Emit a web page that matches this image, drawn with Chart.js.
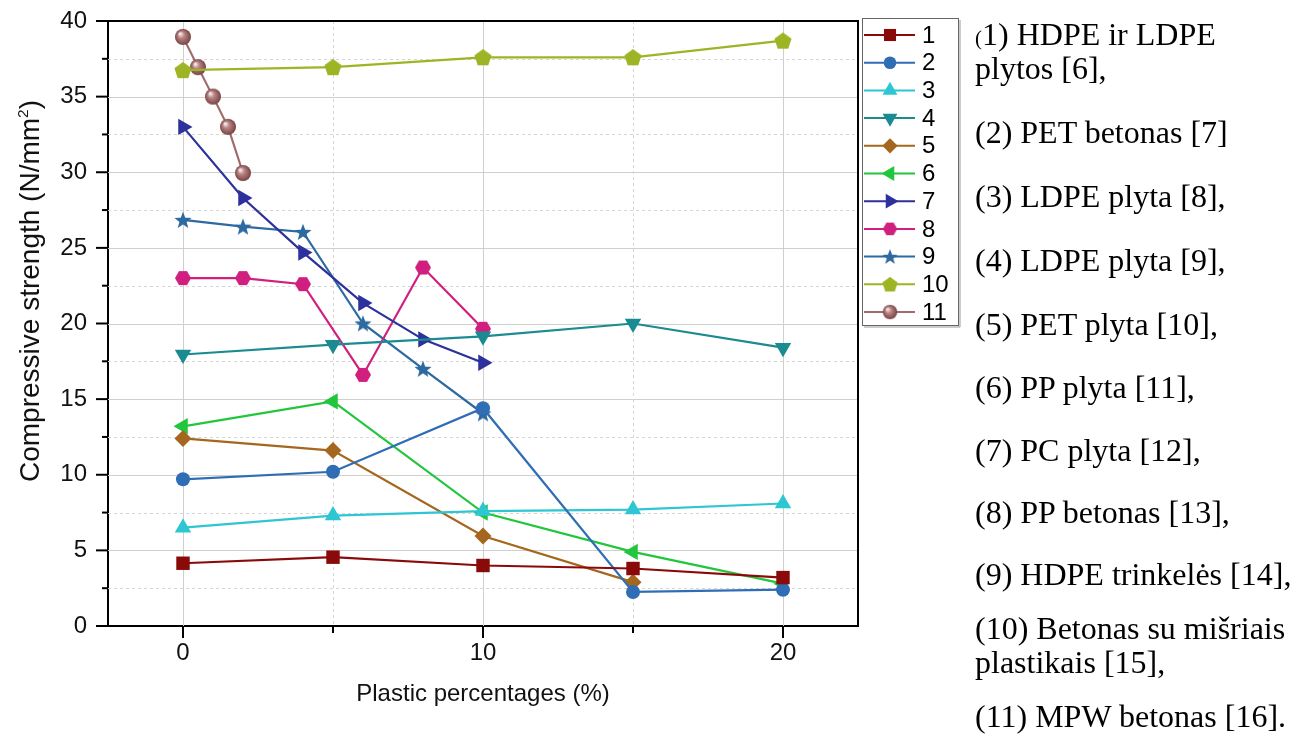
<!DOCTYPE html>
<html><head><meta charset="utf-8">
<script src="https://cdn.jsdelivr.net/npm/chart.js@4/dist/chart.umd.min.js"></script>
<style>
html,body{margin:0;padding:0;background:#fff;width:1311px;height:738px;overflow:hidden}
#wrap{position:absolute;left:0;top:0;width:1311px;height:738px}
#ytitle{position:absolute;left:30px;top:291px;transform:translate(-50%,-50%) rotate(-90deg);white-space:nowrap;font-family:"Liberation Sans",Arial,sans-serif;font-size:28px;line-height:1;color:#111}
#ytitle sup{font-size:0.55em;vertical-align:0.7em;line-height:0}
#note{position:absolute;left:975px;top:0;font-family:"Liberation Serif","Times New Roman",serif;font-size:32px;color:#000}
#note div{position:absolute;left:0;white-space:nowrap;line-height:36px;height:36px}
</style></head><body>
<div id="wrap"><canvas id="c" width="1311" height="738"></canvas></div>
<div id="ytitle">Compressive strength (N/mm<sup>2</sup>)</div>
<div id="note"></div>
<script>
// ---- data ----
const seriesNames = ['1','2','3','4','5','6','7','8','9','10','11'];
const s1X = [0,5,10,15,20];        const s1Y = [4.15,4.55,4.0,3.8,3.2];
const s2X = [0,5,10,15,20];        const s2Y = [9.7,10.2,14.4,2.25,2.4];
const s3X = [0,5,10,15,20];        const s3Y = [6.5,7.3,7.6,7.7,8.1];
const s4X = [0,5,10,15,20];        const s4Y = [17.95,18.6,19.15,20.0,18.4];
const s5X = [0,5,10,15];           const s5Y = [12.4,11.6,5.95,2.9];
const s6X = [0,5,10,15,20];        const s6Y = [13.2,14.85,7.5,4.9,2.8];
const s7X = [0,2,4,6,8,10];        const s7Y = [33.0,28.3,24.7,21.35,18.95,17.4];
const s8X = [0,2,4,6,8,10];        const s8Y = [23.0,23.0,22.6,16.6,23.7,19.65];
const s9X = [0,2,4,6,8,10];        const s9Y = [26.85,26.4,26.05,20.0,17.0,14.05];
const s10X = [0,5,10,15,20];       const s10Y = [36.75,36.95,37.6,37.6,38.7];
const s11X = [0,0.5,1,1.5,2];      const s11Y = [38.95,36.95,35.0,33.0,29.95];
const xTickValues = [0,5,10,15,20];
const xLabelValues = [0,10,20];
const yTickValues = [0,2.5,5,7.5,10,12.5,15,17.5,20,22.5,25,27.5,30,32.5,35,37.5,40];
const yLabelValues = [0,5,10,15,20,25,30,35,40];
const noteLines = [
  ['<span style="font-size:21px">(</span>1) HDPE ir LDPE', 34],
  ['plytos [6],', 68],
  ['(2) PET betonas [7]', 132],
  ['(3) LDPE plyta [8],', 196],
  ['(4) LDPE plyta [9],', 260],
  ['(5) PET plyta [10],', 324],
  ['(6) PP plyta [11],', 387],
  ['(7) PC plyta [12],', 450],
  ['(8) PP betonas [13],', 512],
  ['(9) HDPE trinkelės [14],', 574],
  ['(10) Betonas su mišriais', 628],
  ['plastikais [15],', 662],
  ['(11) MPW betonas [16].', 716]
];

// ---- notes ----
const note = document.getElementById('note');
noteLines.forEach(([t, cy]) => {
  const d = document.createElement('div');
  d.innerHTML = t; d.style.top = (cy - 18) + 'px';
  note.appendChild(d);
});

// ---- custom marker images ----
function mk(size, fn){ const c=document.createElement('canvas'); c.width=c.height=size; fn(c.getContext('2d'), size/2); return c; }
function poly(g, cx, cy, n, r, start){ g.beginPath(); for(let i=0;i<n;i++){const a=start+i*2*Math.PI/n; const px=cx+r*Math.cos(a), py=cy+r*Math.sin(a); i?g.lineTo(px,py):g.moveTo(px,py);} g.closePath(); }
function hexImg(col, r){ return mk(Math.ceil(r*2+2), (g,c)=>{ poly(g,c,c,6,r,0); g.fillStyle=col; g.fill(); }); }
function pentImg(col, r){ return mk(Math.ceil(r*2+2), (g,c)=>{ poly(g,c,c+0.8,5,r,-Math.PI/2); g.fillStyle=col; g.fill(); }); }
function starImg(col, r){ return mk(Math.ceil(r*2+2), (g,c)=>{ g.beginPath(); for(let i=0;i<10;i++){const a=-Math.PI/2+i*Math.PI/5; const rr=i%2?r*0.42:r; const px=c+rr*Math.cos(a), py=c+0.8+rr*Math.sin(a); i?g.lineTo(px,py):g.moveTo(px,py);} g.closePath(); g.fillStyle=col; g.fill(); }); }
function sphereImg(r){ return mk(Math.ceil(r*2+2), (g,c)=>{ const gr=g.createRadialGradient(c-r*0.35,c-r*0.4,r*0.1,c,c,r); gr.addColorStop(0,'#f4e6e6'); gr.addColorStop(0.35,'#b98585'); gr.addColorStop(0.85,'#8a5252'); gr.addColorStop(1,'#6e3e3e'); g.beginPath(); g.arc(c,c,r,0,2*Math.PI); g.fillStyle=gr; g.fill(); }); }

const cols = ['#8a0a0a','#2f6db5','#2ec6d3','#1b8b92','#a5661e','#21c63c','#2d319c','#d01f7e','#2c6a9f','#9db524','#a06b6b'];
const styles = [
  {pointStyle:'rect', radius:9.5, rotation:0},
  {pointStyle:'circle', radius:7, rotation:0},
  {pointStyle:'triangle', radius:9.5, rotation:0},
  {pointStyle:'triangle', radius:9.5, rotation:180},
  {pointStyle:'rectRot', radius:8.5, rotation:0},
  {pointStyle:'triangle', radius:9.5, rotation:-90},
  {pointStyle:'triangle', radius:9.5, rotation:90},
  {pointStyle:hexImg(cols[7],8), radius:7, rotation:0},
  {pointStyle:starImg(cols[8],9), radius:7, rotation:0},
  {pointStyle:pentImg(cols[9],9), radius:7, rotation:0},
  {pointStyle:sphereImg(8), radius:7, rotation:0}
];
const XS = [s1X,s2X,s3X,s4X,s5X,s6X,s7X,s8X,s9X,s10X,s11X];
const YS = [s1Y,s2Y,s3Y,s4Y,s5Y,s6Y,s7Y,s8Y,s9Y,s10Y,s11Y];
const datasets = seriesNames.map((n,i)=>({
  label:n,
  data: XS[i].map((x,k)=>({x:x, y:YS[i][k]})),
  borderColor: cols[i], backgroundColor: cols[i], borderWidth: 2.2,
  pointStyle: styles[i].pointStyle, pointRadius: styles[i].radius, pointRotation: styles[i].rotation,
  pointBackgroundColor: cols[i], pointBorderColor: cols[i], pointBorderWidth: 0,
  tension: 0, showLine: true, fill:false
}));

// ---- plugin: grid, frame, ticks, legend ----
const framePlugin = {
  id:'frame',
  beforeDatasetsDraw(chart){
    const {ctx, chartArea:a, scales:{x,y}} = chart;
    ctx.save();
    ctx.lineWidth = 1;
    yTickValues.forEach(v=>{
      if (v===0 || v===40) return;
      const py = Math.round(y.getPixelForValue(v))+0.5;
      const major = yLabelValues.includes(v);
      ctx.strokeStyle = major ? '#cfcfcf' : '#d6d6d6';
      ctx.setLineDash(major ? [] : [3,3]);
      ctx.beginPath(); ctx.moveTo(a.left, py); ctx.lineTo(a.right, py); ctx.stroke();
    });
    xTickValues.forEach(v=>{
      const px = Math.round(x.getPixelForValue(v))+0.5;
      const major = xLabelValues.includes(v);
      ctx.strokeStyle = major ? '#cfcfcf' : '#d6d6d6';
      ctx.setLineDash(major ? [] : [3,3]);
      ctx.beginPath(); ctx.moveTo(px, a.top); ctx.lineTo(px, a.bottom); ctx.stroke();
    });
    ctx.restore();
  },
  afterDraw(chart){
    const {ctx, chartArea:a, scales:{x,y}} = chart;
    ctx.save();
    ctx.strokeStyle = '#000'; ctx.lineWidth = 2; ctx.setLineDash([]);
    ctx.beginPath();
    ctx.moveTo(a.left-1, a.top); ctx.lineTo(a.right, a.top); ctx.lineTo(a.right, a.bottom+1);
    ctx.stroke();
    // tick marks
    yTickValues.forEach(v=>{
      const py = y.getPixelForValue(v);
      const len = yLabelValues.includes(v) ? 12 : 6;
      ctx.beginPath(); ctx.moveTo(a.left-len, py); ctx.lineTo(a.left, py); ctx.stroke();
    });
    xTickValues.forEach(v=>{
      const px = x.getPixelForValue(v);
      const len = xLabelValues.includes(v) ? 12 : 7;
      ctx.beginPath(); ctx.moveTo(px, a.bottom); ctx.lineTo(px, a.bottom+len); ctx.stroke();
    });
    // legend
    const L = 862, T = 18, W = 96, H = 307;
    ctx.fillStyle = '#fff'; ctx.fillRect(L, T, W, H);
    ctx.lineWidth = 1; ctx.strokeStyle = '#666';
    ctx.strokeRect(L+0.5, T+0.5, W, H);
    ctx.strokeStyle = '#999';
    ctx.beginPath(); ctx.moveTo(L+W+2, T+2); ctx.lineTo(L+W+2, T+H+2); ctx.lineTo(L+2, T+H+2); ctx.stroke();
    ctx.font = '24px "Liberation Sans", Arial, sans-serif';
    ctx.textBaseline = 'middle'; ctx.textAlign = 'left';
    chart.data.datasets.forEach((ds,i)=>{
      const cy = 35 + i*27.7;
      ctx.strokeStyle = ds.borderColor; ctx.lineWidth = 2;
      ctx.beginPath(); ctx.moveTo(L+2, cy); ctx.lineTo(L+53, cy); ctx.stroke();
      const st = ds.pointStyle;
      if (st instanceof HTMLCanvasElement) {
        const s = 0.9;
        ctx.drawImage(st, L+28 - st.width*s/2, cy - st.height*s/2, st.width*s, st.height*s);
      } else {
        ctx.fillStyle = ds.pointBackgroundColor; ctx.strokeStyle = ds.pointBorderColor;
        Chart.helpers.drawPoint(ctx, {pointStyle: st, radius: ds.pointRadius*0.9, rotation: ds.pointRotation, borderWidth: 0}, L+28, cy);
      }
      ctx.fillStyle = '#000';
      ctx.fillText(ds.label, L+60, cy+1);
    });
    ctx.restore();
  }
};

const fontFam = '"Liberation Sans", Arial, sans-serif';
new Chart(document.getElementById('c'), {
  type: 'line',
  data: { datasets },
  options: {
    responsive: false, animation: false,
    layout: { padding: { left: 0, top: 21, right: 1311-858, bottom: 0 } },
    plugins: { legend: { display: false }, tooltip: { enabled: false } },
    scales: {
      x: {
        type: 'linear', min: -2.5, max: 22.5,
        afterBuildTicks(s){ s.ticks = xTickValues.map(v=>({value:v})); },
        afterFit(s){ s.height = 112; s.paddingLeft = 0; s.paddingRight = 0; },
        grid: { display: false, drawTicks: false },
        border: { display: true, color: '#000', width: 2 },
        ticks: { padding: 13, color: '#111', font: { size: 24, family: fontFam },
          maxRotation: 0, autoSkip: false,
          callback: v => xLabelValues.includes(v) ? String(v) : '' },
        title: { display: true, text: 'Plastic percentages (%)', color: '#111',
          font: { size: 24, family: fontFam }, padding: { top: 0, bottom: 29 } }
      },
      y: {
        type: 'linear', min: 0, max: 40,
        afterBuildTicks(s){ s.ticks = yTickValues.map(v=>({value:v})); },
        afterFit(s){ s.width = 108; s.paddingTop = 0; s.paddingBottom = 0; },
        grid: { display: false, drawTicks: false },
        border: { display: true, color: '#000', width: 2 },
        ticks: { padding: 21, color: '#111', font: { size: 24, family: fontFam }, autoSkip: false,
          callback: v => yLabelValues.includes(v) ? String(v) : '' }
      }
    }
  },
  plugins: [framePlugin]
});
</script>
</body></html>
